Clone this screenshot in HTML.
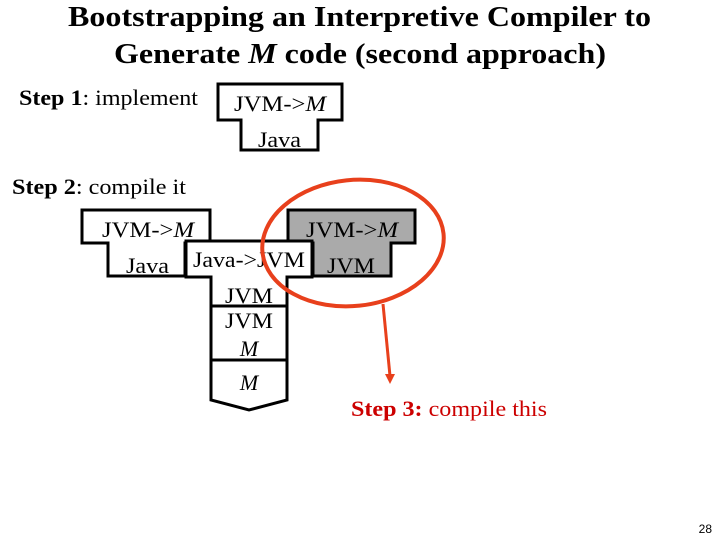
<!DOCTYPE html>
<html><head><style>
body{margin:0;width:720px;height:540px;background:#fff;overflow:hidden;font-family:"Liberation Serif",serif}
</style></head><body>
<svg width="720" height="540" xmlns="http://www.w3.org/2000/svg" font-family="Liberation Serif, serif">
<text x="68" y="26" font-size="28" font-weight="bold" textLength="583" lengthAdjust="spacingAndGlyphs">Bootstrapping an Interpretive Compiler to</text>
<text x="114" y="63" font-size="28" font-weight="bold" textLength="492" lengthAdjust="spacingAndGlyphs">Generate <tspan font-style="italic">M</tspan> code (second approach)</text>
<text x="19" y="105" font-size="22" textLength="179" lengthAdjust="spacingAndGlyphs"><tspan font-weight="bold">Step 1</tspan>: implement</text>
<path d="M218,84 H342 V120 H318 V150 H241 V120 H218 Z" fill="#fff" stroke="#000" stroke-width="3"/>
<text x="234" y="111" font-size="22" textLength="92" lengthAdjust="spacingAndGlyphs">JVM-&gt;<tspan font-style="italic">M</tspan></text>
<text x="258" y="147" font-size="22" textLength="43" lengthAdjust="spacingAndGlyphs">Java</text>
<text x="12" y="194" font-size="22" textLength="174" lengthAdjust="spacingAndGlyphs"><tspan font-weight="bold">Step 2</tspan>: compile it</text>
<path d="M82,210 H210 V243 H185 V276 H108 V243 H82 Z" fill="#fff" stroke="#000" stroke-width="3"/>
<text x="102" y="237" font-size="22" textLength="92" lengthAdjust="spacingAndGlyphs">JVM-&gt;<tspan font-style="italic">M</tspan></text>
<text x="126" y="273" font-size="22" textLength="43" lengthAdjust="spacingAndGlyphs">Java</text>
<path d="M288,210 H415 V243 H391 V276 H313 V243 H288 Z" fill="#aaa" stroke="#000" stroke-width="3"/>
<text x="306" y="237" font-size="22" textLength="92" lengthAdjust="spacingAndGlyphs">JVM-&gt;<tspan font-style="italic">M</tspan></text>
<text x="327" y="273" font-size="22" textLength="48" lengthAdjust="spacingAndGlyphs">JVM</text>
<path d="M186,241 H312 V277 H287 V400 L249,410 L211,400 V277 H186 Z" fill="#fff" stroke="#000" stroke-width="3"/>
<line x1="211" y1="306" x2="287" y2="306" stroke="#000" stroke-width="3"/>
<line x1="211" y1="360" x2="287" y2="360" stroke="#000" stroke-width="3"/>
<text x="193" y="267" font-size="22" textLength="112" lengthAdjust="spacingAndGlyphs">Java-&gt;JVM</text>
<text x="225" y="303" font-size="22" textLength="48" lengthAdjust="spacingAndGlyphs">JVM</text>
<text x="225" y="328" font-size="22" textLength="48" lengthAdjust="spacingAndGlyphs">JVM</text>
<text x="249" y="356" font-size="22" text-anchor="middle" font-style="italic">M</text>
<text x="249" y="390" font-size="22" text-anchor="middle" font-style="italic">M</text>
<ellipse cx="353" cy="243" rx="91" ry="63" fill="none" stroke="#e8401c" stroke-width="4" transform="rotate(-6 353 243)"/>
<line x1="383" y1="304" x2="390" y2="376" stroke="#e8401c" stroke-width="3"/>
<path d="M385,374 L390,384 L395,374 Z" fill="#e8401c"/>
<text x="351" y="416" font-size="22" fill="#c00" textLength="196" lengthAdjust="spacingAndGlyphs"><tspan font-weight="bold">Step 3:</tspan> compile this</text>
<text x="712" y="533" font-size="12" text-anchor="end" font-family="Liberation Sans, sans-serif">28</text>
</svg>
</body></html>
